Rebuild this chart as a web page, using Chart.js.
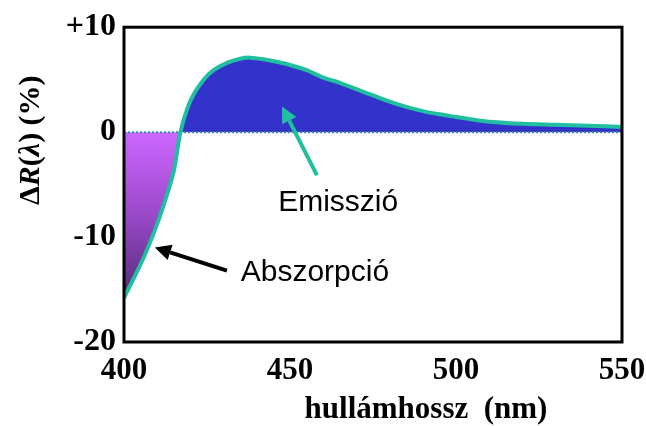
<!DOCTYPE html>
<html>
<head>
<meta charset="utf-8">
<script src="https://cdn.jsdelivr.net/npm/chart.js@4/dist/chart.umd.min.js"></script>
<style>
    html, body { margin: 0; padding: 0; background: #fff; }
    #wrap { width: 646px; height: 426px; }
</style>
</head>
<body>
<div id="wrap"><canvas id="spectrumChart" width="646" height="426"></canvas></div>
<script>
// data
const wavelengths = [400, 403, 406, 409, 412, 415, 417, 419, 421, 424, 427, 431, 435, 438, 442, 446, 450, 455, 460, 465, 470, 475, 480, 485, 490, 495, 500, 505, 510, 520, 530, 540, 550];
const deltaR = [-15.8, -13.9, -11.9, -9.6, -6.9, -3.7, 0, 2.2, 3.6, 5.0, 5.9, 6.6, 7.0, 7.1, 6.95, 6.7, 6.4, 5.9, 5.2, 4.7, 4.1, 3.5, 2.9, 2.4, 2.0, 1.7, 1.45, 1.2, 1.0, 0.8, 0.7, 0.6, 0.5];
const xTicks = [400, 450, 500, 550];
const yTicks = [-20, -10, 0, 10];
const zeroLine = [0, 0];

// annotation labels and arrows, in data units
const labels = ['Emisszió', 'Abszorpció'];
const labelX = [464.5, 457.5];
const labelY = [-6.7, -13.4];
const arrowFrom = [[458.1, -4.1], [431.0, -13.2]];
const arrowTo = [[447.6, 2.45], [409.3, -11.0]];
const arrowColors = ['#1fbf9f', '#000000'];

const serif = "'Liberation Serif', 'Times New Roman', serif";
const sans = "'Liberation Sans', Arial, sans-serif";

function drawArrow(ctx, x1, y1, x2, y2, color) {
    const ang = Math.atan2(y2 - y1, x2 - x1);
    const head = 16, wing = 8;
    const bx = x2 - head * Math.cos(ang), by = y2 - head * Math.sin(ang);
    ctx.save();
    ctx.strokeStyle = color;
    ctx.fillStyle = color;
    ctx.lineWidth = 4;
    ctx.beginPath();
    ctx.moveTo(x1, y1);
    ctx.lineTo(bx, by);
    ctx.stroke();
    ctx.beginPath();
    ctx.moveTo(x2, y2);
    ctx.lineTo(bx + wing * Math.sin(ang), by - wing * Math.cos(ang));
    ctx.lineTo(bx - wing * Math.sin(ang), by + wing * Math.cos(ang));
    ctx.closePath();
    ctx.fill();
    ctx.restore();
}

const extras = {
    id: 'extras',
    afterDraw(chart) {
        const ctx = chart.ctx;
        const a = chart.chartArea;
        const xs = chart.scales.x, ys = chart.scales.y;

        // frame
        ctx.save();
        ctx.strokeStyle = '#000';
        ctx.lineWidth = 3;
        ctx.strokeRect(a.left, a.top, a.right - a.left, a.bottom - a.top);
        ctx.restore();

        // arrows
        for (let i = 0; i < arrowFrom.length; i++) {
            drawArrow(ctx,
                xs.getPixelForValue(arrowFrom[i][0]), ys.getPixelForValue(arrowFrom[i][1]),
                xs.getPixelForValue(arrowTo[i][0]), ys.getPixelForValue(arrowTo[i][1]),
                arrowColors[i]);
        }

        // labels
        ctx.save();
        ctx.fillStyle = '#000';
        ctx.font = '30px ' + sans;
        ctx.textAlign = 'center';
        ctx.textBaseline = 'middle';
        for (let i = 0; i < labels.length; i++) {
            ctx.fillText(labels[i], xs.getPixelForValue(labelX[i]), ys.getPixelForValue(labelY[i]));
        }
        ctx.restore();

        // x axis title
        ctx.save();
        ctx.fillStyle = '#000';
        ctx.font = 'bold 31px ' + serif;
        ctx.textAlign = 'center';
        ctx.textBaseline = 'middle';
        ctx.fillText('hullámhossz  (nm)', a.left + 302, a.bottom + 68);
        ctx.restore();

        // y axis title with italic parts
        const parts = [['Δ', false], ['R', true], ['(', false], ['λ', true], [') (%)', false]];
        ctx.save();
        ctx.translate(31, a.top + 113);
        ctx.rotate(-Math.PI / 2);
        ctx.fillStyle = '#000';
        ctx.textBaseline = 'middle';
        let total = 0;
        parts.forEach(p => {
            ctx.font = (p[1] ? 'italic ' : '') + 'bold 30px ' + serif;
            total += ctx.measureText(p[0]).width;
        });
        let cx = -total / 2;
        parts.forEach(p => {
            ctx.font = (p[1] ? 'italic ' : '') + 'bold 30px ' + serif;
            ctx.fillText(p[0], cx, 0);
            cx += ctx.measureText(p[0]).width;
        });
        ctx.restore();
    }
};

const ctx = document.getElementById('spectrumChart').getContext('2d');
const chart = new Chart(ctx, {
    type: 'line',
    data: {
        datasets: [{
            label: 'dR',
            data: wavelengths.map((w, i) => ({ x: w, y: deltaR[i] })),
            borderColor: '#1fbf9f',
            borderWidth: 4,
            pointRadius: 0,
            tension: 0.3,
            fill: { target: 'origin', above: '#3333cc', below: '#b05ce0' },
            order: 0
        }, {
            label: 'zero',
            data: [{ x: xTicks[0], y: zeroLine[0] }, { x: xTicks[xTicks.length - 1], y: zeroLine[1] }],
            borderColor: '#3a8f96',
            borderWidth: 2,
            borderDash: [2, 2],
            pointRadius: 0,
            fill: false,
            order: 1
        }]
    },
    options: {
        responsive: false,
        animation: false,
        events: [],
        layout: { padding: { left: 0, right: 24, top: 24, bottom: 0 } },
        plugins: {
            legend: { display: false },
            tooltip: { enabled: false },
            filler: { drawTime: 'beforeDatasetsDraw' }
        },
        scales: {
            x: {
                type: 'linear',
                min: xTicks[0],
                max: xTicks[xTicks.length - 1],
                afterBuildTicks: (axis) => { axis.ticks = xTicks.map(v => ({ value: v })); },
                afterFit: (axis) => {
                    axis.height = 84;
                    axis.paddingLeft = 0;
                    axis.paddingRight = 0;
                },
                grid: { display: false, drawTicks: false },
                border: { display: false },
                ticks: {
                    padding: 10,
                    color: '#000',
                    font: { family: serif, size: 31, weight: 'bold' },
                    maxRotation: 0
                }
            },
            y: {
                min: yTicks[0],
                max: yTicks[yTicks.length - 1],
                afterBuildTicks: (axis) => { axis.ticks = yTicks.map(v => ({ value: v })); },
                afterFit: (axis) => { axis.width = 124; },
                grid: { display: false, drawTicks: false },
                border: { display: false },
                ticks: {
                    padding: 8,
                    color: '#000',
                    font: { family: serif, size: 32, weight: 'bold' },
                    callback: (v) => (v > 0 ? '+' + v : '' + v)
                }
            }
        }
    },
    plugins: [extras]
});

// purple gradient for the absorption part, built from the y scale
const ys = chart.scales.y;
const grad = ctx.createLinearGradient(0, ys.getPixelForValue(0), 0, ys.getPixelForValue(deltaR[0]));
grad.addColorStop(0, '#cc66ff');
grad.addColorStop(0.45, '#a04cd0');
grad.addColorStop(1, '#552a78');
chart.data.datasets[0].fill.below = grad;
chart.update('none');
</script>
</body>
</html>
